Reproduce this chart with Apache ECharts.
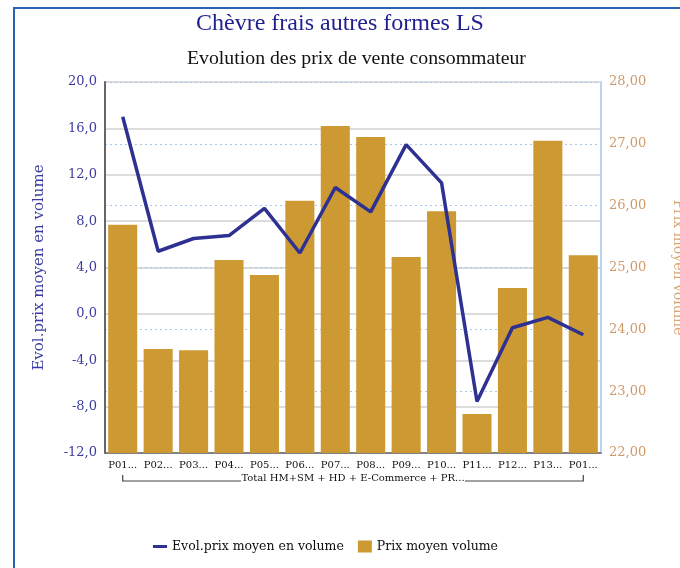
<!DOCTYPE html>
<html>
<head>
<meta charset="utf-8">
<script src="https://cdn.jsdelivr.net/npm/echarts@6/dist/echarts.min.js"></script>
<style>html,body{margin:0;padding:0;background:#fff}#c{width:680px;height:568px}</style>
</head>
<body>
<div id="c"></div>
<script>
const categories = ['P01...','P02...','P03...','P04...','P05...','P06...','P07...','P08...','P09...','P10...','P11...','P12...','P13...','P01...'];
const groupLabel = 'Total HM+SM + HD + E-Commerce + PR...';
const evolPrix = [17.0, 5.4, 6.5, 6.75, 9.1, 5.25, 10.9, 8.8, 14.6, 11.3, -7.55, -1.2, -0.3, -1.8];
const prixMoyen = [25.69, 23.68, 23.66, 25.12, 24.88, 26.08, 27.29, 27.11, 25.17, 25.91, 22.63, 24.67, 27.05, 25.20];
const leftTicks = {min: -12, max: 20, interval: 4};
const rightTicks = {min: 22, max: 28, interval: 1};

const serif = 'DejaVu Serif';
const chart = echarts.init(document.getElementById('c'));
const option = {
  animation: false,
  title: [
    {text: 'Chèvre frais autres formes LS', left: 'center', top: 7,
     textStyle: {fontFamily: 'Liberation Serif', fontSize: 24, fontWeight: 'normal', color: '#1f1f8f'}},
    {text: 'Evolution des prix de vente consommateur', left: 182, top: 44,
     textStyle: {fontFamily: 'Liberation Serif', fontSize: 19.8, fontWeight: 'normal', color: '#111'}}
  ],
  grid: {left: 105, right: 79, top: 82, bottom: 115, containLabel: false, outerBoundsMode: 'none'},
  legend: {
    left: 148, top: 535, itemGap: 14, itemWidth: 14, itemHeight: 12,
    textStyle: {fontFamily: serif, fontSize: 12.5, color: '#111'},
    data: [
      {name: 'Evol.prix moyen en volume', icon: 'path://M0,5L14,5L14,8L0,8Z', itemStyle: {color: '#2e3192'}},
      {name: 'Prix moyen volume', icon: 'rect'}
    ]
  },
  xAxis: {
    type: 'category', data: categories,
    axisLine: {show: true, onZero: false, lineStyle: {color: '#666', width: 1.5}},
    axisTick: {show: false},
    axisLabel: {fontFamily: serif, fontSize: 10, color: '#111', margin: 7, interval: 0}
  },
  yAxis: [
    {type: 'value', min: leftTicks.min, max: leftTicks.max, interval: leftTicks.interval,
     name: 'Evol.prix moyen en volume', nameLocation: 'middle', nameRotate: 90, nameGap: 58,
     nameTextStyle: {fontFamily: serif, fontSize: 15, color: '#3c3ca0'},
     axisLine: {show: true, lineStyle: {color: '#666', width: 2}},
     axisTick: {show: false},
     axisLabel: {fontFamily: serif, fontSize: 13, color: '#3c3ca0', margin: 8,
       formatter: v => v.toFixed(1).replace('.', ',')},
     splitLine: {show: true, lineStyle: {color: '#d0d0d0', width: 1.5}}
    },
    {type: 'value', min: rightTicks.min, max: rightTicks.max, interval: rightTicks.interval,
     position: 'right',
     name: 'Prix moyen volume', nameLocation: 'middle', nameRotate: -90, nameGap: 70,
     nameTextStyle: {fontFamily: serif, fontSize: 14, color: '#d9a878'},
     axisLine: {show: true, lineStyle: {color: '#b8d4f0', width: 2}},
     axisTick: {show: false},
     axisLabel: {fontFamily: serif, fontSize: 13, color: '#cf9a6a', margin: 8,
       formatter: v => v.toFixed(2).replace('.', ',')},
     splitLine: {show: true, lineStyle: {color: '#a8c8ec', width: 1, type: [2, 3]}}
    }
  ],
  series: [
    {name: 'Prix moyen volume', type: 'bar', yAxisIndex: 1, data: prixMoyen,
     barCategoryGap: '18%', itemStyle: {color: '#cc9933'}, z: 2},
    {name: 'Evol.prix moyen en volume', type: 'line', yAxisIndex: 0, data: evolPrix,
     showSymbol: false, symbol: 'none', lineStyle: {color: '#2e3192', width: 3.5},
     itemStyle: {color: '#2e3192'}, z: 5}
  ]
};
chart.setOption(option);

const x0 = chart.convertToPixel({xAxisIndex: 0}, 0);
const x1 = chart.convertToPixel({xAxisIndex: 0}, categories.length - 1);
const xm = (x0 + x1) / 2;
const by = 481;
const halfText = 112;
chart.setOption({
  graphic: [
    {type: 'rect', shape: {x: 14, y: 8, width: 700, height: 620}, style: {fill: 'none', stroke: '#2a64b0', lineWidth: 2}, z: 0},
    {type: 'polyline', shape: {points: [[x0, by - 6], [x0, by], [xm - halfText, by]]}, style: {stroke: '#444', lineWidth: 1.2, fill: 'none'}},
    {type: 'polyline', shape: {points: [[xm + halfText, by], [x1, by], [x1, by - 6]]}, style: {stroke: '#444', lineWidth: 1.2, fill: 'none'}},
    {type: 'text', x: xm, y: by - 3, style: {text: groupLabel, fontFamily: serif, fontSize: 10, fill: '#111', align: 'center', verticalAlign: 'middle'}}
  ]
});
</script>
</body>
</html>
